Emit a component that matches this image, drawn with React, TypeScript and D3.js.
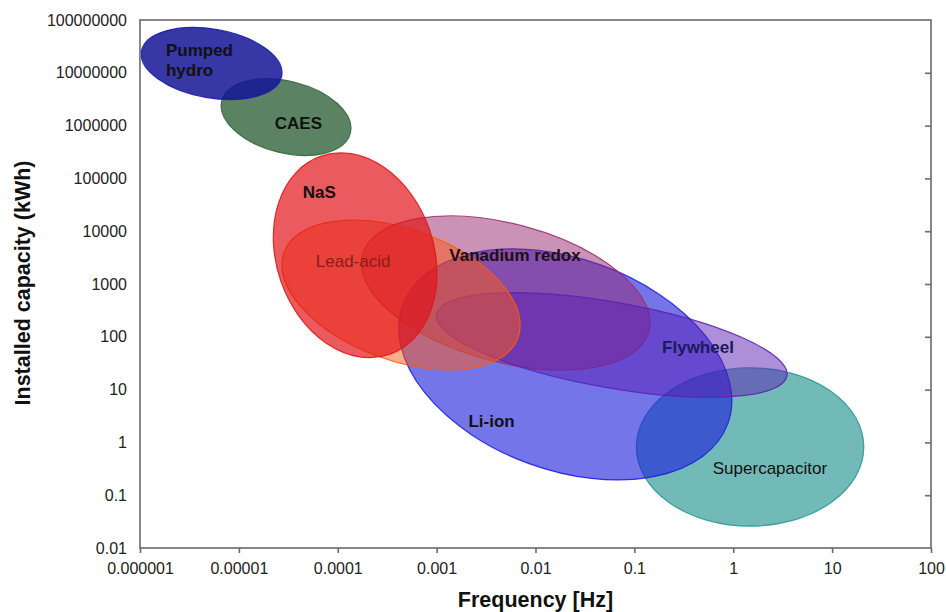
import React, { useEffect, useRef } from "react";
import * as d3 from "d3";

// axis ticks
const freqTicks = [1e-6, 1e-5, 1e-4, 1e-3, 0.01, 0.1, 1, 10, 100];
const capTicks = [0.01, 0.1, 1, 10, 100, 1000, 1e4, 1e5, 1e6, 1e7, 1e8];

// technologies, in drawing order (back to front)
const techs = ["Supercapacitor", "Li-ion", "Vanadium redox", "Flywheel", "Lead-acid", "NaS", "CAES", "Pumped hydro"];
// ellipse centres
const centerFreq = [1.48, 0.02, 5.0e-3, 0.059, 4.36e-4, 1.5e-4, 3.0e-5, 5.3e-6];
const centerCap = [0.82, 30, 676, 70, 620, 3500, 1.45e6, 1.5e7];
// half-spans in decades (before tilt) and tilt in degrees
const halfFreqDec = [1.15, 1.75, 1.5, 1.8, 1.26, 1.06, 0.67, 0.72];
const halfCapDec = [1.5, 2.0, 1.31, 0.81, 1.24, 1.49, 0.68, 0.65];
const tiltDeg = [0, 20, 15, 10, 20, 71, 14, 10];
// label anchors
const labelFreq = [2.35, 3.6e-3, 6.2e-3, 0.44, 1.43e-4, 6.5e-5, 4.0e-5, 1.83e-6];
const labelCap = [0.33, 2.5, 3500, 64, 2700, 55000, 1.1e6, 2.7e7];

const styles: Record<string, any> = {
  "Supercapacitor": { fill: "rgb(20,140,135)", op: 0.6, stroke: "#2a9a94", text: "#111", weight: "normal" },
  "Li-ion": { fill: "rgb(25,25,220)", op: 0.6, stroke: "#1f1fe0", text: "#111", weight: "bold" },
  "Vanadium redox": { fill: "rgb(150,40,110)", op: 0.5, stroke: "#9a3070", text: "#1a1010", weight: "bold" },
  "Flywheel": { fill: "rgb(90,30,180)", op: 0.5, stroke: "#5a22b0", text: "#1a1a5c", weight: "bold" },
  "Lead-acid": { fill: "rgb(255,90,20)", op: 0.5, stroke: "#ff5a00", text: "#8a1e18", weight: "normal" },
  "NaS": { fill: "rgb(225,20,25)", op: 0.7, stroke: "#e01818", text: "#111", weight: "bold" },
  "CAES": { fill: "rgb(50,100,60)", op: 0.8, stroke: "#2f6a3a", text: "#111", weight: "bold" },
  "Pumped hydro": { fill: "rgb(20,20,150)", op: 0.85, stroke: "#1a1ab0", text: "#111", weight: "bold" },
};

const fmt = (v: number) => (v >= 1 ? String(v) : v.toFixed(Math.round(-Math.log10(v))));

export default function App() {
  const ref = useRef<SVGSVGElement>(null);

  useEffect(() => {
    const width = 946;
    const height = 612;
    const margin = { top: 20, right: 15, bottom: 64, left: 140 };
    const svg = d3.select(ref.current);
    svg.selectAll("*").remove();

    const x = d3.scaleLog().domain([1e-6, 100]).range([margin.left, width - margin.right]);
    const y = d3.scaleLog().domain([0.01, 1e8]).range([height - margin.bottom, margin.top]);
    const font = "'Liberation Sans', Arial, sans-serif";

    // ellipses
    const g = svg.append("g");
    techs.forEach((t, i) => {
      const s = styles[t];
      const cx = x(centerFreq[i]);
      const cy = y(centerCap[i]);
      const rx = x(centerFreq[i] * Math.pow(10, halfFreqDec[i])) - cx;
      const ry = cy - y(centerCap[i] * Math.pow(10, halfCapDec[i]));
      g.append("ellipse")
        .attr("cx", cx).attr("cy", cy).attr("rx", rx).attr("ry", ry)
        .attr("transform", `rotate(${tiltDeg[i]} ${cx} ${cy})`)
        .attr("fill", s.fill).attr("fill-opacity", s.op)
        .attr("stroke", s.stroke).attr("stroke-width", 1.2).attr("stroke-opacity", 0.9);
    });

    // labels
    techs.forEach((t, i) => {
      const s = styles[t];
      const lx = x(labelFreq[i]);
      const ly = y(labelCap[i]);
      const txt = svg.append("text")
        .attr("x", lx).attr("y", ly).attr("dy", "0.35em")
        .attr("text-anchor", t === "Pumped hydro" ? "start" : "middle")
        .style("font-family", font).style("font-size", "17px")
        .style("font-weight", s.weight).attr("fill", s.text);
      if (t === "Pumped hydro") {
        txt.append("tspan").attr("x", lx).text("Pumped");
        txt.append("tspan").attr("x", lx).attr("dy", "1.2em").text("hydro");
      } else {
        txt.text(t);
      }
    });

    // frame
    const frameColor = "#6a6a6a";
    svg.append("rect")
      .attr("x", margin.left).attr("y", margin.top)
      .attr("width", width - margin.left - margin.right)
      .attr("height", height - margin.top - margin.bottom)
      .attr("fill", "none").attr("stroke", frameColor).attr("stroke-width", 1.6);

    const xAxis = svg.append("g")
      .attr("transform", `translate(0, ${height - margin.bottom})`)
      .call(d3.axisBottom(x).tickValues(freqTicks).tickFormat(fmt as any).tickSize(5).tickPadding(10));
    const yAxis = svg.append("g")
      .attr("transform", `translate(${margin.left}, 0)`)
      .call(d3.axisLeft(y).tickValues(capTicks).tickFormat(fmt as any).tickSize(0).tickPadding(13));
    const yRight = svg.append("g")
      .attr("transform", `translate(${width - margin.right}, 0)`)
      .call(d3.axisLeft(y).tickValues(capTicks.slice(1, -1)).tickFormat(() => "").tickSize(6));

    [xAxis, yAxis, yRight].forEach(a => {
      a.select(".domain").remove();
      a.selectAll(".tick line").attr("stroke", frameColor).attr("stroke-width", 1.6);
      a.selectAll(".tick text").style("font-family", font).style("font-size", "16px").attr("fill", "#222");
    });

    // titles
    svg.append("text")
      .attr("x", (margin.left + width - margin.right) / 2).attr("y", 607)
      .attr("text-anchor", "middle")
      .style("font-family", font).style("font-size", "21.5px").style("font-weight", "bold")
      .attr("fill", "#111").text("Frequency [Hz]");
    svg.append("text")
      .attr("transform", "rotate(-90)")
      .attr("x", -283).attr("y", 30)
      .attr("text-anchor", "middle")
      .style("font-family", font).style("font-size", "21.5px").style("font-weight", "bold")
      .attr("fill", "#111").text("Installed capacity (kWh)");
  }, []);

  return (
    <div style={{ position: "absolute", left: 0, top: 0 }}>
      <svg ref={ref} width={946} height={612} style={{ display: "block", background: "#fff" }} />
    </div>
  );
}
